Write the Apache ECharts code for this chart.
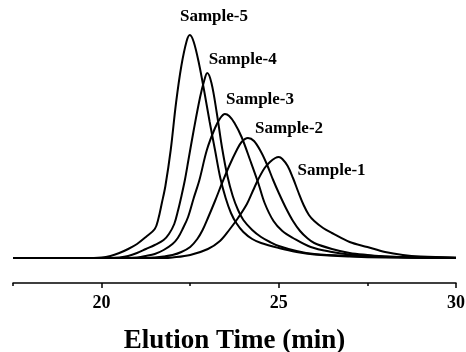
<!DOCTYPE html>
<html>
<head>
<meta charset="utf-8">
<script src="https://cdn.jsdelivr.net/npm/echarts@6/dist/echarts.min.js"></script>
<style>
  html, body { margin: 0; padding: 0; background: #fff; }
  #chart { width: 466px; height: 352px; }
</style>
</head>
<body>
<div id="chart"></div>
<script>
// elution time (min) vs detector response (arbitrary units, baseline = 0)
const sample1 = [[17.5,0],[21.75,0],[22.0,0.5],[22.5,3],[23.0,9],[23.34,17],[23.6,28],[23.85,40],[24.1,54],[24.28,68],[24.41,78],[24.6,90],[24.75,96],[24.9,100],[25.0,101],[25.1,99],[25.25,92],[25.4,80],[25.55,66],[25.7,53],[25.85,43],[26.0,37],[26.25,30],[26.5,25],[27.0,16],[27.5,11],[28.0,6],[28.5,3],[29.0,1.5],[30.0,0.5]];
const sample2 = [[17.5,0],[21.25,0],[21.5,0.5],[21.75,1.5],[22.0,3],[22.25,6],[22.5,11],[22.7,19],[22.85,28],[23.0,40],[23.2,57],[23.4,75],[23.6,92],[23.8,107],[23.95,116],[24.13,120],[24.3,117],[24.5,106],[24.66,94],[24.84,78],[25.0,65],[25.2,50],[25.4,37],[25.6,27],[25.8,20],[26.0,15],[26.5,9],[27.0,5],[27.5,3],[28.0,1.5],[29.0,0.5],[30.0,0]];
const sample3 = [[17.5,0],[20.75,0],[21.0,0.5],[21.25,2],[21.5,4],[21.75,8],[22.0,14],[22.15,20],[22.3,30],[22.44,41],[22.6,60],[22.76,78],[22.97,108],[23.2,130],[23.35,140],[23.48,144],[23.6,142],[23.75,135],[23.95,121],[24.2,97],[24.42,75],[24.6,55],[24.85,37],[25.1,27],[25.4,20],[25.9,11],[26.5,6],[27.0,3.5],[28.0,1.5],[29.0,0.5],[30.0,0]];
const sample4 = [[17.5,0],[20.25,0],[20.5,0.5],[20.75,2],[21.0,5],[21.25,9],[21.5,13],[21.75,18],[21.9,24],[22.05,34],[22.16,48],[22.24,60],[22.35,78],[22.45,98],[22.6,128],[22.78,161],[22.9,178],[22.98,185],[23.1,175],[23.25,145],[23.4,110],[23.55,82],[23.7,62],[23.85,48],[24.0,38],[24.25,28],[24.5,21],[24.75,16],[25.0,12],[25.5,7],[26.0,4],[27.0,2],[28.0,1],[30.0,0]];
const sample5 = [[17.5,0],[19.5,0],[20.0,0.5],[20.25,2],[20.5,5],[20.75,9],[21.0,14],[21.25,21],[21.5,29],[21.6,39],[21.7,55],[21.8,72],[21.95,108],[22.1,155],[22.25,192],[22.4,217],[22.49,223],[22.6,216],[22.75,194],[22.9,166],[23.05,136],[23.2,108],[23.35,80],[23.5,60],[23.65,45],[23.8,35],[24.0,26],[24.25,19],[24.5,15],[25.0,10],[25.5,6],[26.0,3.5],[27.0,1.5],[28.0,0.5],[30.0,0]];

const seriesNames = ["Sample-1", "Sample-2", "Sample-3", "Sample-4", "Sample-5"];
const majorTicks = [20, 25, 30];
const minorTicks = [17.5, 22.5, 27.5];

// where each curve's name sits (data coords)
const labelAt = [[26.49, 87], [25.29, 129], [24.47, 158], [23.98, 198], [23.17, 241]];

const FONT = '"Liberation Serif", "Times New Roman", serif';
const chart = echarts.init(document.getElementById("chart"));

const allData = [sample1, sample2, sample3, sample4, sample5];

const option = {
  animation: false,
  backgroundColor: "#fff",
  grid: { left: 13, right: 10, top: 8, bottom: 69, outerBoundsMode: "none" },
  xAxis: [
    {
      type: "value",
      min: 17.5,
      max: 30,
      position: "bottom",
      axisLine: { show: true, onZero: false, lineStyle: { color: "#000", width: 1.5 } },
      axisTick: { show: true, customValues: majorTicks, length: 5, lineStyle: { color: "#000", width: 1.5 } },
      axisLabel: {
        customValues: majorTicks,
        color: "#000",
        fontFamily: FONT,
        fontWeight: "bold",
        fontSize: 18,
        margin: 11,
      },
      splitLine: { show: false },
      name: "Elution Time (min)",
      nameLocation: "middle",
      nameGap: 45,
      nameTextStyle: { color: "#000", fontFamily: FONT, fontWeight: "bold", fontSize: 27 },
    },
    {
      type: "value",
      min: 17.5,
      max: 30,
      position: "bottom",
      axisLine: { show: false, onZero: false },
      axisTick: { show: true, customValues: minorTicks, length: 3, lineStyle: { color: "#000", width: 1.5 } },
      axisLabel: { show: false },
      splitLine: { show: false },
    },
  ],
  yAxis: { type: "value", min: -25, max: 250, show: false },
  series: allData.map((d, i) => ({
    name: seriesNames[i],
    type: "line",
    data: d,
    showSymbol: false,
    smooth: 0.35,
    lineStyle: { color: "#000", width: 2 },
    markPoint: {
      symbol: "circle",
      symbolSize: 0,
      silent: true,
      label: {
        show: true,
        position: "inside",
        formatter: seriesNames[i],
        color: "#000",
        fontFamily: FONT,
        fontWeight: "bold",
        fontSize: 17,
      },
      data: [{ coord: labelAt[i] }],
    },
  })),
};

chart.setOption(option);
</script>
</body>
</html>
